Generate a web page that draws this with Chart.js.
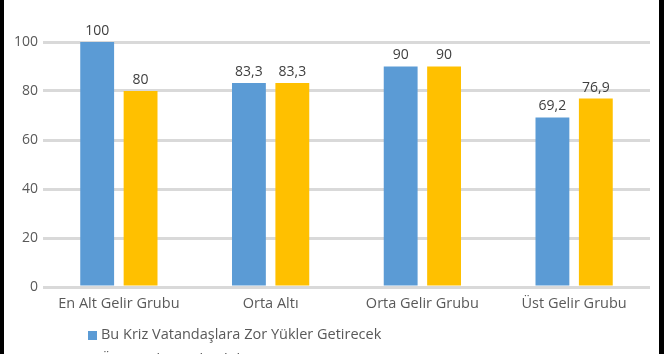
<html>
    <head>
        <meta charset="utf8">
        <title>Gelir gruplarına göre</title>
    </head>
    <style>
        body{margin:0;background:#fff}
    </style>
    <body>
        <canvas id="GelirChart" width="664" height="354"></canvas>
    </body>
    <script type="text/javascript" src="https://cdn.jsdelivr.net/npm/chart.js@4/dist/chart.umd.min.js"></script>
    <script>
        var gruplar=["En Alt Gelir Grubu","Orta Altı","Orta Gelir Grubu","Üst Gelir Grubu"];
        var zorYukler=[100,83.3,90,69.2];
        var ikinciSeri=[80,83.3,90,76.9];
        var yTicks=[0,20,40,60,80,100];
        var seriAdlari=["Bu Kriz Vatandaşlara Zor Yükler Getirecek","Üstesinden Gelinebilir"];
        var renkler=["#5b9bd5","#ffc000"];
        var yazi="#595959";
        var font="'Open Sans', sans-serif";

        // bar etiketleri (virgullu)
        var etiketler={
            id:'etiketler',
            afterDatasetsDraw:function(chart){
                var ctx=chart.ctx;
                ctx.save();
                ctx.font="14px "+font;
                ctx.fillStyle="#404040";
                ctx.textAlign="center";
                ctx.textBaseline="bottom";
                chart.data.datasets.forEach(function(ds,i){
                    chart.getDatasetMeta(i).data.forEach(function(bar,j){
                        ctx.fillText(String(ds.data[j]).replace('.',','),bar.x,bar.y-4);
                    });
                });
                ctx.restore();
            }
        };
        // legend alt alta + siyah kenarlar
        var lejant={
            id:'lejant',
            afterDraw:function(chart){
                var ctx=chart.ctx;
                ctx.save();
                ctx.font="14.5px "+font;
                ctx.textBaseline="middle";
                chart.data.datasets.forEach(function(ds,i){
                    var y=335+i*25;
                    ctx.fillStyle=ds.backgroundColor;
                    ctx.fillRect(88,y-4,9,9);
                    ctx.fillStyle=yazi;
                    ctx.fillText(ds.label,101,y);
                });
                ctx.fillStyle="#000";
                ctx.fillRect(0,0,4,chart.height);
                ctx.fillRect(chart.width-5,0,5,chart.height);
                ctx.restore();
            }
        };

        window.onload=function(){
            new Chart(document.getElementById("GelirChart"), {
                type: 'bar',
                data: {
                    labels: gruplar,
                    datasets: [{
                        data: zorYukler,
                        label: seriAdlari[0],
                        backgroundColor: renkler[0],
                        categoryPercentage: 0.572,
                        barPercentage: 0.78
                    },
                    {
                        data: ikinciSeri,
                        label: seriAdlari[1],
                        backgroundColor: renkler[1],
                        categoryPercentage: 0.572,
                        barPercentage: 0.78
                    }]
                },
                plugins:[etiketler,lejant],
                options:{
                    responsive:false,
                    animation:false,
                    layout:{padding:{top:42,right:14,bottom:43,left:0}},
                    plugins:{legend:{display:false},tooltip:{enabled:false}},
                    scales:{
                        x:{
                            grid:{display:false},
                            border:{display:false},
                            afterFit:function(s){ s.height=24; },
                            ticks:{color:yazi,font:{family:font,size:14.5},padding:0,maxRotation:0}
                        },
                        y:{
                            min:0,max:100,
                            afterBuildTicks:function(s){ s.ticks=yTicks.map(function(v){return {value:v};}); },
                            afterFit:function(s){ s.width=43; },
                            grid:{color:"#d9d9d9",lineWidth:3,drawTicks:false},
                            border:{display:false},
                            ticks:{color:yazi,font:{family:font,size:14},padding:5}
                        }
                    }
                }
            });
        }
    </script>
</html>
